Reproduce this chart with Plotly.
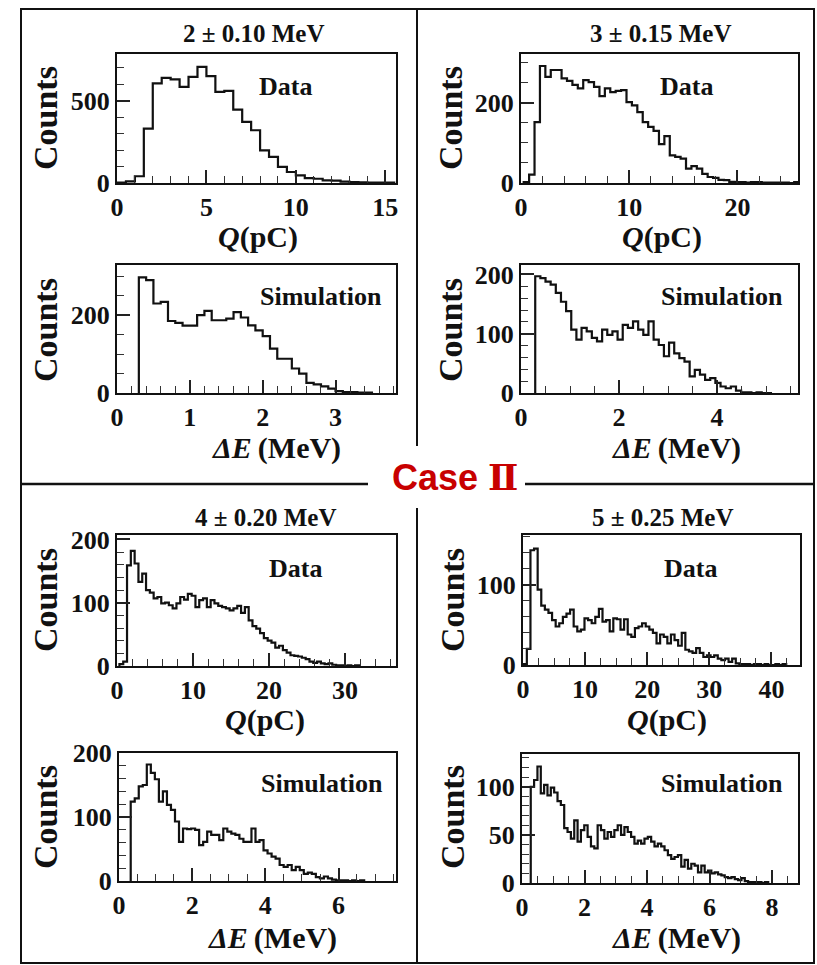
import numpy as np
import plotly.graph_objects as go

W, H = 817, 965

# ---------------- data (bin start, bin width, counts) ----------------
q2_start, q2_width = 0.0, 0.5
q2_counts = [2, 10, 41, 331, 606, 640, 630, 585, 646, 707, 650, 555, 561, 447, 372, 321,
             199, 159, 98, 67, 47, 30, 26, 16, 14, 8, 5, 4, 3, 2, 2]

q3_start, q3_width = 0.25, 0.5
q3_counts = [2, 21, 152, 292, 265, 282, 282, 261, 255, 245, 236, 257, 252, 240, 217, 236,
             227, 230, 232, 202, 194, 177, 152, 140, 130, 97, 117, 69, 65, 61, 36, 42, 36,
             23, 15, 13, 8, 7, 3, 2, 2, 1, 2, 2, 1, 1, 1, 1, 1, 0, 2]

e2_start, e2_width = 0.3, 0.1
e2_counts = [297, 290, 230, 234, 185, 180, 173, 173, 200, 211, 187, 187, 191, 208, 194, 174,
             161, 146, 114, 88, 88, 63, 50, 26, 22, 17, 11, 5, 2, 2, 1, 1]

e3_start, e3_width = 0.29, 0.105
e3_counts = [197, 194, 188, 183, 169, 154, 138, 107, 90, 110, 104, 93, 87, 107, 98, 104, 90,
             115, 110, 121, 107, 98, 121, 90, 81, 62, 85, 67, 59, 53, 28, 39, 31, 22, 25, 17,
             11, 8, 11, 4, 1, 1, 0, 1, 0, 0]

q4_start, q4_width = 0.32, 0.5
q4_counts = [3, 7, 159, 182, 162, 133, 146, 120, 116, 107, 109, 99, 100, 96, 91, 99, 109, 105,
             114, 111, 93, 104, 107, 93, 104, 99, 95, 93, 91, 88, 91, 95, 84, 93, 72, 63, 59,
             52, 44, 40, 37, 29, 32, 25, 21, 17, 16, 15, 13, 11, 7, 5, 7, 4, 3, 4, 2, 1, 1, 0,
             1, 0, 1]

q5_start, q5_width = 0.04, 0.58
q5_counts = [1, 20, 143, 145, 94, 74, 69, 65, 56, 48, 52, 60, 64, 69, 48, 42, 44, 58, 56, 52,
             60, 70, 54, 56, 42, 58, 57, 44, 57, 38, 35, 46, 48, 52, 48, 44, 40, 27, 38, 35,
             27, 38, 31, 24, 40, 19, 17, 15, 21, 15, 10, 12, 10, 12, 8, 6, 8, 4, 8, 2, 1, 1,
             1, 0, 1, 1, 0, 1, 0, 0, 1, 0, 1]

e4_start, e4_width = 0.32, 0.11
e4_counts = [124, 129, 148, 150, 182, 169, 159, 124, 140, 119, 111, 93, 61, 82, 81, 82, 80, 56,
             61, 77, 72, 72, 64, 82, 77, 74, 72, 66, 61, 61, 82, 61, 64, 48, 43, 38, 35, 25,
             22, 25, 17, 22, 17, 11, 13, 11, 6, 4, 7, 4, 2, 1, 1, 1, 0, 1, 0, 1]

e5_start, e5_width = 0.28, 0.107
e5_counts = [100, 107, 121, 93, 102, 91, 99, 94, 85, 81, 57, 53, 46, 65, 43, 55, 60, 48, 38, 36,
             60, 55, 46, 53, 48, 55, 60, 50, 58, 53, 48, 41, 44, 41, 46, 48, 43, 38, 41, 38,
             34, 29, 25, 27, 29, 17, 24, 15, 20, 18, 11, 18, 11, 13, 10, 11, 9, 8, 6, 5, 6, 4,
             3, 5, 2, 1, 1, 1, 1, 0, 1]

titles = ["2 ± 0.10 MeV", "3 ± 0.15 MeV", "4 ± 0.20 MeV", "5 ± 0.25 MeV"]
tags = ["Data", "Simulation"]
xlabels = ["<i>Q</i>(pC)", "<i>ΔE</i>\u2009(MeV)"]
ylabel = "Counts"
case_word = "Case"
case_numeral = "Ⅱ"

panels = [
    # (start, width, counts, tag_idx, xlabel_idx)
    (q2_start, q2_width, q2_counts, 0, 0),
    (q3_start, q3_width, q3_counts, 0, 0),
    (e2_start, e2_width, e2_counts, 1, 1),
    (e3_start, e3_width, e3_counts, 1, 1),
    (q4_start, q4_width, q4_counts, 0, 0),
    (q5_start, q5_width, q5_counts, 0, 0),
    (e4_start, e4_width, e4_counts, 1, 1),
    (e5_start, e5_width, e5_counts, 1, 1),
]

# ---------------- layout (pixels) ----------------
boxes = [  # x0, x1, y0, y1 (px, top-down)
    (117, 396, 54, 183), (521, 798, 54, 183),
    (117, 396, 265, 393), (521, 798, 265, 393),
    (117, 396, 535, 666), (523, 800, 535, 665),
    (119, 396, 753, 881), (522, 798, 754, 883),
]
xranges = [(0, 15.6), (0, 25.6), (0, 3.83), (0, 5.65), (0, 36.7), (0, 44.6), (0, 7.57), (0, 8.83)]
yranges = [(0, 785), (0, 322), (0, 329), (0, 216), (0, 207), (0, 162), (0, 200), (0, 134)]
xticks = [(5, 1), (10, 2), (1, 0.2), (2, 0.5), (10, 2), (10, 2.5), (2, 0.5), (2, 0.5)]
yticks = [(500, 100), (200, 50), (200, 50), (100, 20), (100, 20), (100, 20), (100, 20), (50, 10)]

ylab_pos = [(45, 118), (450, 118), (45, 330), (450, 330), (45, 600), (452, 600), (45, 817), (452, 817)]
xlab_pos = [(258, 237), (662, 237), (276, 448), (676, 448), (265, 720), (667, 720), (272, 938), (676, 938)]
tag_pos = [(285, 86), (686, 86), (321, 296), (722, 296), (295, 568), (690, 568), (322, 783), (722, 783)]
title_pos = [(253, 33), (660, 33), (265, 517), (662, 517)]

SERIF = "Liberation Serif, Times New Roman, serif"


def px(x):
    return x / W


def py(y):
    return 1 - y / H


fig = go.Figure()
layout = dict(width=W, height=H, margin=dict(l=0, r=0, t=0, b=0, pad=0, autoexpand=False),
              paper_bgcolor="white", plot_bgcolor="white", showlegend=False)

annotations = []


def note(text, x, y, size, family=SERIF, color="#111111", angle=0):
    annotations.append(dict(text=text, x=px(x), y=py(y), xref="paper", yref="paper",
                            xanchor="center", yanchor="middle", showarrow=False, textangle=angle,
                            font=dict(family=family, size=size, color=color)))


for i, (start, width, counts, tag_i, xl_i) in enumerate(panels):
    n = i + 1
    edges = start + width * np.arange(len(counts) + 1)
    xs = np.concatenate([[edges[0]], edges])
    ys = np.concatenate([[0], np.asarray(counts, dtype=float), [0]])
    fig.add_trace(go.Scatter(x=xs, y=ys, mode="lines", line=dict(shape="hv", color="#111111", width=2.2),
                             xaxis=f"x{n}", yaxis=f"y{n}", hoverinfo="skip"))
    x0, x1, y0, y1 = boxes[i]
    common = dict(showline=True, linecolor="#111111", linewidth=2, mirror=True, showgrid=False,
                  zeroline=False, ticks="inside", ticklen=13, tickwidth=1.5, tickcolor="#222222",
                  automargin=False,
                  tickfont=dict(family=SERIF, size=26, color="#111111", weight="bold"))
    layout[f"xaxis{n}"] = dict(common, domain=[px(x0), px(x1)], range=list(xranges[i]),
                               anchor=f"y{n}", dtick=xticks[i][0], tick0=0,
                               minor=dict(dtick=xticks[i][1], tick0=0, ticks="inside", ticklen=7,
                                          tickwidth=1.2, tickcolor="#333333"))
    layout[f"yaxis{n}"] = dict(common, domain=[py(y1), py(y0)], range=list(yranges[i]),
                               anchor=f"x{n}", dtick=yticks[i][0], tick0=0,
                               minor=dict(dtick=yticks[i][1], tick0=0, ticks="inside", ticklen=7,
                                          tickwidth=1.2, tickcolor="#333333"))
    note(f"<b>{ylabel}</b>", *ylab_pos[i], 34, angle=-90)
    note(f"<b>{xlabels[xl_i]}</b>", *xlab_pos[i], 30)
    note(f"<b>{tags[tag_i]}</b>", *tag_pos[i], 26)

for t, (tx, ty) in zip(titles, title_pos):
    note(f"<b>{t}</b>", tx, ty, 25)

note(f"<b>{case_word} <span style='font-family:DejaVu Serif'>{case_numeral}</span></b>",
     455, 477, 36, family="Liberation Sans, Arial, sans-serif", color="#c80000")

shapes = [
    dict(type="rect", xref="paper", yref="paper", x0=px(21), x1=px(814), y0=py(963), y1=py(9),
         line=dict(color="#111111", width=2)),
    dict(type="line", xref="paper", yref="paper", x0=px(417), x1=px(417), y0=py(963), y1=py(9),
         line=dict(color="#111111", width=2)),
    dict(type="line", xref="paper", yref="paper", x0=px(21), x1=px(814), y0=py(484), y1=py(484),
         line=dict(color="#111111", width=2.5)),
    dict(type="rect", xref="paper", yref="paper", x0=px(368), x1=px(525), y0=py(508), y1=py(446),
         fillcolor="white", line=dict(width=0)),
]

layout["annotations"] = annotations
layout["shapes"] = shapes
fig.update_layout(**layout)
fig.write_html("out.html")
